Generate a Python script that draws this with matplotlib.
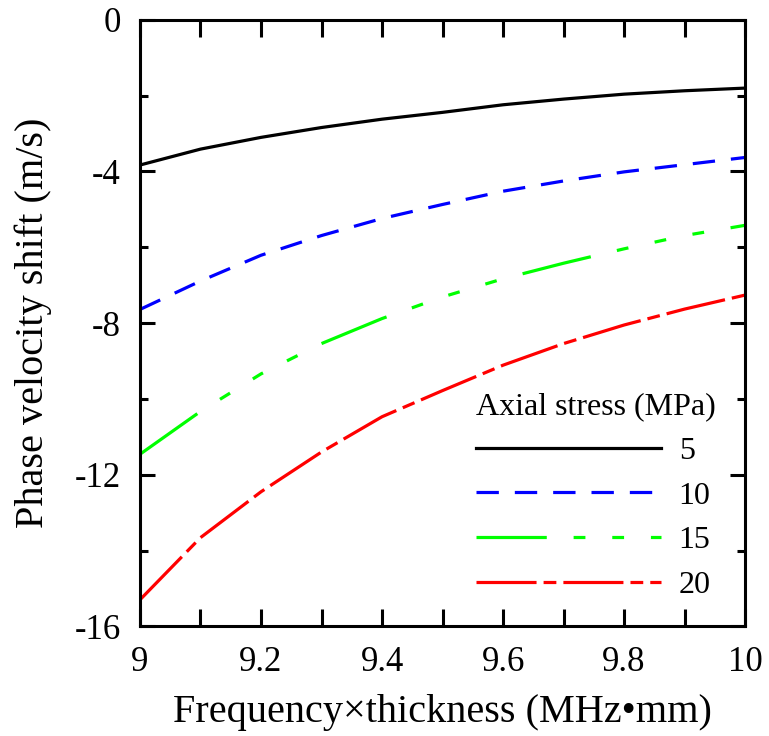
import matplotlib
matplotlib.use("Agg")
from matplotlib import pyplot as plt
from matplotlib.ticker import MultipleLocator, FuncFormatter

plt.rcParams['font.family'] = ['Liberation Serif', 'DejaVu Serif']
plt.rcParams['axes.unicode_minus'] = False

# frequency x thickness (MHz*mm)
fd = [9.0, 9.1, 9.2, 9.3, 9.4, 9.5, 9.6, 9.7, 9.8, 9.9, 10.0]

# phase velocity shift (m/s) for each axial stress
shift_5 = [-3.83, -3.41, -3.10, -2.84, -2.62, -2.44, -2.24, -2.09, -1.96, -1.87, -1.80]
shift_10 = [-7.64, -6.89, -6.21, -5.69, -5.24, -4.87, -4.52, -4.25, -4.01, -3.82, -3.63]
shift_15 = [-11.46, -10.33, -9.34, -8.54, -7.88, -7.31, -6.83, -6.42, -6.04, -5.69, -5.42]
shift_20 = [-15.30, -13.66, -12.45, -11.40, -10.47, -9.78, -9.11, -8.54, -8.05, -7.63, -7.26]

stress_labels = ['5', '10', '15', '20']

fig = plt.figure(figsize=(7.69, 7.36), dpi=100)
ax = fig.add_axes([0.182, 0.149, 0.787, 0.824])

lw = 2.3
ax.plot(fd, shift_5, color='black', lw=lw, linestyle='-', label=stress_labels[0])
ax.plot(fd, shift_10, color='#0000ff', lw=lw, linestyle=(0, (7.0, 5.0)), label=stress_labels[1])
ax.plot(fd, shift_15, color='#00ff00', lw=lw,
        linestyle=(0, (22.0, 8.4, 3.7, 8.4, 3.7, 8.4, 3.7, 8.4)), label=stress_labels[2])
ax.plot(fd, shift_20, color='#ff0000', lw=lw,
        linestyle=(0, (18.8, 2.2, 4.0, 2.2)), label=stress_labels[3])

ax.set_xlim(9, 10)
ax.set_ylim(-16, 0)
ax.xaxis.set_major_locator(MultipleLocator(0.2))
ax.xaxis.set_minor_locator(MultipleLocator(0.1))
ax.yaxis.set_major_locator(MultipleLocator(4))
ax.yaxis.set_minor_locator(MultipleLocator(2))
ax.xaxis.set_major_formatter(FuncFormatter(lambda v, p: '%g' % round(v, 1)))
ax.yaxis.set_major_formatter(FuncFormatter(lambda v, p: '%g' % round(v, 1)))

for s in ax.spines.values():
    s.set_linewidth(2.2)

ax.tick_params(which='both', direction='in', top=True, right=True, width=2.2, labelsize=25)
ax.tick_params(axis='x', which='both', length=12, pad=14)
ax.tick_params(axis='y', which='major', length=11, pad=14)
ax.tick_params(axis='y', which='minor', length=6)

ax.set_xlabel('Frequency\u00d7thickness (MHz\u2022mm)', fontsize=29, labelpad=11)
ax.set_ylabel('Phase velocity shift (m/s)', fontsize=29, labelpad=16)

leg = ax.legend(title='Axial stress (MPa)', loc='upper left', bbox_to_anchor=(0.555, 0.386),
                frameon=False, fontsize=23, title_fontsize=23, handlelength=5.8,
                handletextpad=0.55, labelspacing=0.48, borderpad=0, borderaxespad=0)
leg._legend_box.align = 'left'

fig.savefig('out.png', dpi=100)
